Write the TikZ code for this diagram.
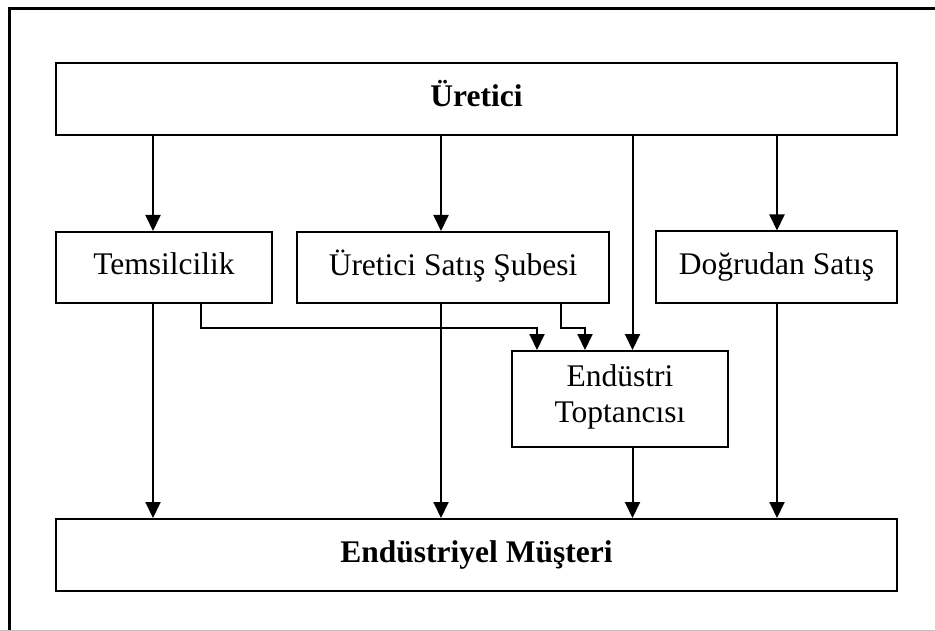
\documentclass[tikz,border=0pt]{standalone}
\usepackage{fontspec}
\setmainfont{Liberation Serif}
\usetikzlibrary{arrows.meta}
\begin{document}
\begin{tikzpicture}[x=1pt,y=-1pt,
  box/.style={draw=black,line width=2pt,rectangle,inner sep=0pt,align=center,
    font=\fontsize{31.5}{35}\selectfont,execute at begin node=\strut},
  arr/.style={line width=2pt,-{Triangle[length=16pt,width=15pt]}}]
  \useasboundingbox (0,0) rectangle (935,631);
  % page frame
  \draw[line width=3pt] (9,631) -- (9,9) -- (935,9);
  \draw[line width=1.2pt,black!25] (0,630.4) -- (935,630.4);

  % boxes
  \node[box,minimum width=841pt,minimum height=72pt] (ure) at (476.5,99) {\textbf{Üretici}};
  \node[box,minimum width=841pt,minimum height=72pt] (mus) at (476.5,555) {\textbf{Endüstriyel Müşteri}};
  \node[box,minimum width=216pt,minimum height=71pt] (tem) at (164,267.5) {Temsilcilik};
  \node[box,minimum width=312pt,minimum height=71pt] (sub) at (453,267.5) {Üretici Satış Şubesi};
  \node[box,minimum width=241pt,minimum height=72pt] (dog) at (776.5,267.5) {Doğrudan Satış};
  \node[box,minimum width=216pt,minimum height=96pt,font=\fontsize{31.5}{36}\selectfont,
    execute at begin node=\rule{0pt}{29pt}]
    (top) at (620,399) {Endüstri\\Toptancısı};

  % connector columns
  \coordinate (x1) at (153,0);
  \coordinate (x1b) at (201,0);
  \coordinate (x2) at (441,0);
  \coordinate (x2b) at (561,0);
  \coordinate (x3) at (632.5,0);
  \coordinate (x4) at (777,0);
  \coordinate (t1) at (537,0);
  \coordinate (t2) at (585,0);
  \coordinate (hy) at (0,328);

  % from the producer
  \draw[arr] (ure.south -| x1) -- (tem.north -| x1);
  \draw[arr] (ure.south -| x2) -- (sub.north -| x2);
  \draw[arr] (ure.south -| x3) -- (top.north -| x3);
  \draw[arr] (ure.south -| x4) -- (dog.north -| x4);

  % to the industrial customer
  \draw[arr] (tem.south -| x1) -- (mus.north -| x1);
  \draw[arr] (sub.south -| x2) -- (mus.north -| x2);
  \draw[arr] (top.south -| x3) -- (mus.north -| x3);
  \draw[arr] (dog.south -| x4) -- (mus.north -| x4);

  % to the industrial wholesaler
  \draw[arr] (tem.south -| x1b) -- (hy -| x1b) -- (hy -| t1) -- (top.north -| t1);
  \draw[arr] (sub.south -| x2b) -- (hy -| x2b) -- (hy -| t2) -- (top.north -| t2);
\end{tikzpicture}
\end{document}
